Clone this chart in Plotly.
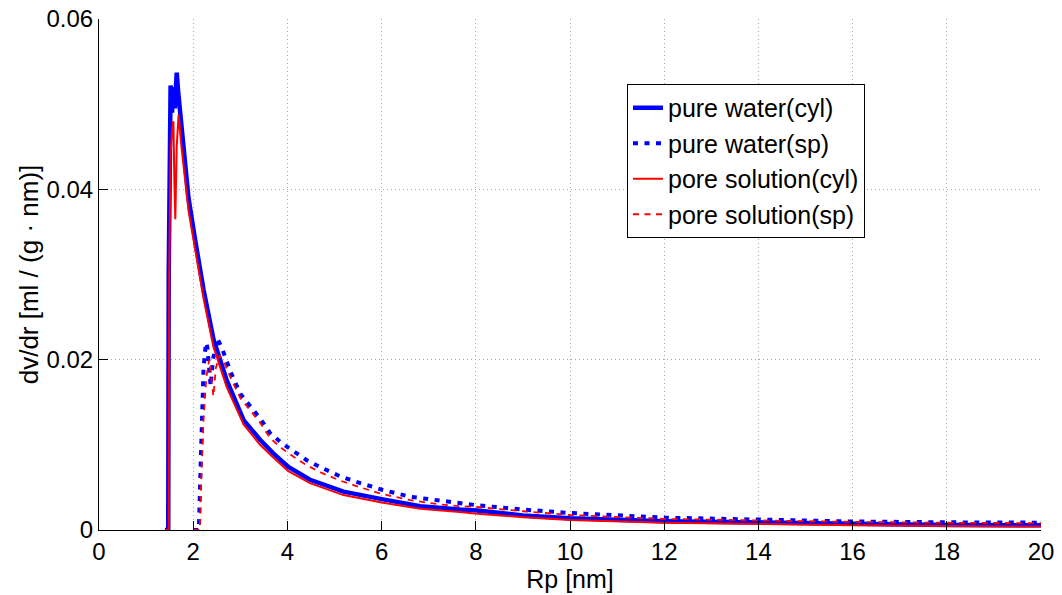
import plotly.graph_objects as go

# pure water (cyl)
x_pw_cyl = [1.40, 1.47, 1.48, 1.50, 1.52, 1.55, 1.58, 1.61, 1.65, 1.68, 1.72, 1.80, 1.90, 2.04, 2.22, 2.43,
            2.71, 3.07, 3.42, 3.70, 4.02, 4.48, 5.19, 6.03, 6.82, 7.66, 8.03, 9.00, 10.0, 12.0, 14.0, 16.0,
            18.0, 20.0]
y_pw_cyl = [0.0, 0.0, 0.030, 0.048, 0.0522, 0.0490, 0.0520, 0.0495, 0.0537, 0.0515, 0.0490, 0.0440, 0.0390,
            0.0341, 0.0282, 0.0224, 0.0176, 0.0129, 0.0106, 0.0090, 0.0074, 0.0059, 0.0045, 0.0036, 0.0028,
            0.0024, 0.0023, 0.0017, 0.00137, 0.00102, 0.00086, 0.00070, 0.00060, 0.00055]

# pure water (sp)
x_pw_sp = [2.00, 2.12, 2.15, 2.18, 2.22, 2.27, 2.30, 2.37, 2.42, 2.51, 2.60, 2.80, 3.00, 3.42, 3.63, 3.88,
           4.13, 4.41, 4.73, 5.12, 5.55, 6.03, 6.61, 7.25, 7.66, 8.03, 9.00, 10.0, 12.0, 14.0, 16.0, 18.0, 20.0]
y_pw_sp = [0.0, 0.0, 0.006, 0.0137, 0.0190, 0.0220, 0.0215, 0.0169, 0.0200, 0.0225, 0.0215, 0.0185, 0.0160,
           0.0131, 0.0114, 0.0102, 0.0092, 0.0082, 0.0073, 0.0063, 0.0055, 0.0047, 0.0039, 0.0034, 0.0031,
           0.0029, 0.0024, 0.0020, 0.00145, 0.00118, 0.0010, 0.00090, 0.00086]

# pore solution (cyl)
x_ps_cyl = [1.40, 1.48, 1.49, 1.52, 1.55, 1.58, 1.60, 1.62, 1.65, 1.69, 1.75, 1.80, 1.90, 2.04, 2.22, 2.43,
            2.71, 3.07, 3.42, 3.70, 4.02, 4.48, 5.19, 6.03, 6.82, 7.66, 8.03, 9.00, 10.0, 12.0, 14.0, 16.0,
            18.0, 20.0]
y_ps_cyl = [0.0, 0.0, 0.030, 0.044, 0.0470, 0.0480, 0.0410, 0.0365, 0.0450, 0.0488, 0.0450, 0.0425, 0.0375,
            0.0330, 0.0272, 0.0215, 0.0168, 0.0124, 0.0100, 0.0085, 0.0069, 0.0055, 0.0041, 0.0032, 0.0025,
            0.0021, 0.0019, 0.0015, 0.00118, 0.00086, 0.00067, 0.00055, 0.00046, 0.00040]

# pore solution (sp)
x_ps_sp = [2.00, 2.14, 2.17, 2.22, 2.28, 2.34, 2.38, 2.43, 2.48, 2.56, 2.65, 2.80, 3.00, 3.42, 3.63, 3.88,
           4.13, 4.41, 4.73, 5.12, 5.55, 6.03, 6.61, 7.25, 7.66, 8.03, 9.00, 10.0, 12.0, 14.0, 16.0, 18.0, 20.0]
y_ps_sp = [0.0, 0.0, 0.006, 0.013, 0.018, 0.0200, 0.0180, 0.0157, 0.0190, 0.0205, 0.0198, 0.0178, 0.0155,
           0.0126, 0.0108, 0.0096, 0.0086, 0.0076, 0.0067, 0.0058, 0.0050, 0.0042, 0.0035, 0.0030, 0.0028,
           0.0027, 0.0022, 0.00176, 0.0013, 0.0011, 0.00095, 0.00085, 0.00080]

x_ticks = [0, 2, 4, 6, 8, 10, 12, 14, 16, 18, 20]
y_ticks = [0, 0.02, 0.04, 0.06]
y_tick_text = ["0", "0.02", "0.04", "0.06"]

FONT = "Liberation Sans, Arial, Helvetica, sans-serif"

fig = go.Figure()
fig.add_trace(go.Scatter(x=x_pw_cyl, y=y_pw_cyl, mode="lines", name="pure water(cyl)",
                         line=dict(color="#0000FF", width=4.5)))
fig.add_trace(go.Scatter(x=x_pw_sp, y=y_pw_sp, mode="lines", name="pure water(sp)",
                         line=dict(color="#0000FF", width=4, dash="5px,6.5px")))
fig.add_trace(go.Scatter(x=x_ps_cyl, y=y_ps_cyl, mode="lines", name="pore solution(cyl)",
                         line=dict(color="#FF0000", width=2)))
fig.add_trace(go.Scatter(x=x_ps_sp, y=y_ps_sp, mode="lines", name="pore solution(sp)",
                         line=dict(color="#FF0000", width=1.8, dash="6px,5.5px")))

grid = dict(showgrid=True, gridcolor="#A8A8A8", griddash="1px,3px", gridwidth=1)

fig.update_layout(
    width=1062, height=595,
    paper_bgcolor="white", plot_bgcolor="white",
    margin=dict(l=99, r=21, t=19, b=65),
    font=dict(family=FONT, size=24, color="black"),
    showlegend=True,
    legend=dict(x=0.5605, y=0.8728, xanchor="left", yanchor="top",
                bgcolor="white", bordercolor="black", borderwidth=1,
                font=dict(family=FONT, size=25, color="black"),
                tracegroupgap=0, itemwidth=30),
    xaxis=dict(range=[0, 20], tickvals=x_ticks, ticks="inside", ticklen=9, tickcolor="black",
               showline=True, linecolor="black", linewidth=1, zeroline=False, automargin=False,
               ticklabeloverflow="allow",
               title=dict(text="Rp [nm]", font=dict(size=25), standoff=0),
               tickfont=dict(size=24), **grid),
    yaxis=dict(range=[0, 0.06], tickvals=y_ticks, ticktext=y_tick_text, ticks="inside", ticklen=9,
               tickcolor="black", showline=True, linecolor="black", linewidth=1, zeroline=False,
               automargin=False, ticklabeloverflow="allow",
               title=dict(text="dv/dr [ml / (g · nm)]", font=dict(size=26), standoff=0),
               tickfont=dict(size=24), **grid),
)

fig.write_html("out.html", config={"displayModeBar": False},
               post_script="document.body.style.margin='0';document.body.style.overflow='hidden';")
